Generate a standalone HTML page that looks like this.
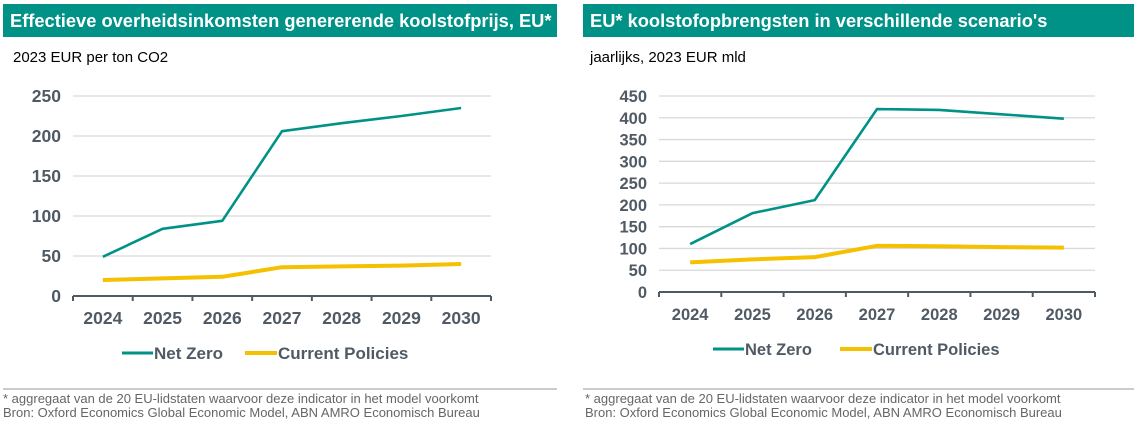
<!DOCTYPE html>
<html><head><meta charset="utf-8"><style>
body{margin:0;width:1138px;height:428px;background:#fff;overflow:hidden;font-family:"Liberation Sans",Arial,sans-serif}
svg{display:block}
</style></head><body>
<svg id="s" width="1138" height="428">
<rect x="3" y="4" width="554" height="33" fill="#009286"/>
<text x="10" y="27" font-size="18.3" font-weight="bold" fill="#fff">Effectieve overheidsinkomsten genererende koolstofprijs, EU*</text>
<text x="13" y="62" font-size="15" fill="#000">2023 EUR per ton CO2</text>
<rect x="583" y="4" width="551" height="33" fill="#009286"/>
<text x="590" y="27" font-size="18.3" font-weight="bold" fill="#fff">EU* koolstofopbrengsten in verschillende scenario's</text>
<text x="590" y="62" font-size="15" fill="#000">jaarlijks, 2023 EUR mld</text>
<line x1="3" y1="389" x2="557" y2="389" stroke="#bbb" stroke-width="1.5"/>
<text x="3" y="403" font-size="13" fill="#666">* aggregaat van de 20 EU-lidstaten waarvoor deze indicator in het model voorkomt</text>
<text x="3" y="417" font-size="13" fill="#666">Bron: Oxford Economics Global Economic Model, ABN AMRO Economisch Bureau</text>
<line x1="583" y1="389" x2="1134" y2="389" stroke="#bbb" stroke-width="1.5"/>
<text x="585" y="403" font-size="13" fill="#666">* aggregaat van de 20 EU-lidstaten waarvoor deze indicator in het model voorkomt</text>
<text x="585" y="417" font-size="13" fill="#666">Bron: Oxford Economics Global Economic Model, ABN AMRO Economisch Bureau</text>
</svg>
<script>
const categories=["2024","2025","2026","2027","2028","2029","2030"];
const leftNetZero=[49,84,94,206,216,225,235];
const leftCurrent=[20,22,24,36,37,38,40];
const leftTicks=[0,50,100,150,200,250];
const rightNetZero=[110,181,211,420,418,408,398];
const rightCurrent=[68,75,80,106,105,103,102];
const rightTicks=[0,50,100,150,200,250,300,350,400,450];
const NS="http://www.w3.org/2000/svg";
const svg=document.getElementById('s');
function mk(t,a,txt){const e=document.createElementNS(NS,t);for(const k in a)e.setAttribute(k,a[k]);if(txt!==undefined)e.textContent=txt;svg.appendChild(e);return e;}
function chart(p,nz,cp,ticks){
  const max=ticks[ticks.length-1];
  const y=v=>p.y0-(v/max)*(p.y0-p.yTop);
  const bw=(p.x1-p.x0)/categories.length;
  const x=i=>p.x0+bw*(i+0.5);
  ticks.forEach(t=>{
    if(t>0){const g=mk('line',{x1:p.x0,x2:p.x1,y1:y(t),y2:y(t),stroke:'#d9d9d9','stroke-width':1.3});
    
    }
    const l=mk('text',{x:p.x0-12,y:y(t)+6,'text-anchor':'end','font-size':p.fs,'font-weight':'bold',fill:'#505a64'},t);
    
    
  });
  const ax=mk('line',{x1:p.x0,x2:p.x1,y1:p.y0,y2:p.y0,stroke:'#505a64','stroke-width':2});
  
  
  for(let i=0;i<=categories.length;i++){
    const tk=mk('line',{x1:p.x0+bw*i,x2:p.x0+bw*i,y1:p.y0,y2:p.y0+5,stroke:'#505a64','stroke-width':2});
    
    
  }
  categories.forEach((c,i)=>{
    const l=mk('text',{x:x(i),y:p.y0+28,'text-anchor':'middle','font-size':p.fs,'font-weight':'bold',fill:'#505a64'},c);
    
    
  });
  const c1=mk('polyline',{points:cp.map((v,i)=>x(i)+','+y(v)).join(' '),fill:'none',stroke:'#f5c000','stroke-width':4,'stroke-linejoin':'round'});
  
  
  const n1=mk('polyline',{points:nz.map((v,i)=>x(i)+','+y(v)).join(' '),fill:'none',stroke:'#009286','stroke-width':2.6,'stroke-linejoin':'round'});
  
  
  const ly=p.ly;
  const a=mk('line',{x1:p.lx,x2:p.lx+31,y1:ly,y2:ly,stroke:'#009286','stroke-width':3});
  
  
  const at=mk('text',{x:p.lx+32,y:ly+6,'font-size':p.lfs,'font-weight':'bold',fill:'#505a64'},'Net Zero');
  
  
  const b=mk('line',{x1:p.lx2,x2:p.lx2+32,y1:ly,y2:ly,stroke:'#f5c000','stroke-width':4});
  
  
  const bt=mk('text',{x:p.lx2+33,y:ly+6,'font-size':p.lfs,'font-weight':'bold',fill:'#505a64'},'Current Policies');
  
  
}
chart({n:'left',x0:73,x1:491,y0:296,yTop:96,fs:17.5,lfs:17,lx:122,lx2:245,ly:353},leftNetZero,leftCurrent,leftTicks);
chart({n:'right',x0:659,x1:1095,y0:292,yTop:96,fs:16.5,lfs:16.5,lx:713,lx2:840,ly:349},rightNetZero,rightCurrent,rightTicks);
</script>
</body></html>
